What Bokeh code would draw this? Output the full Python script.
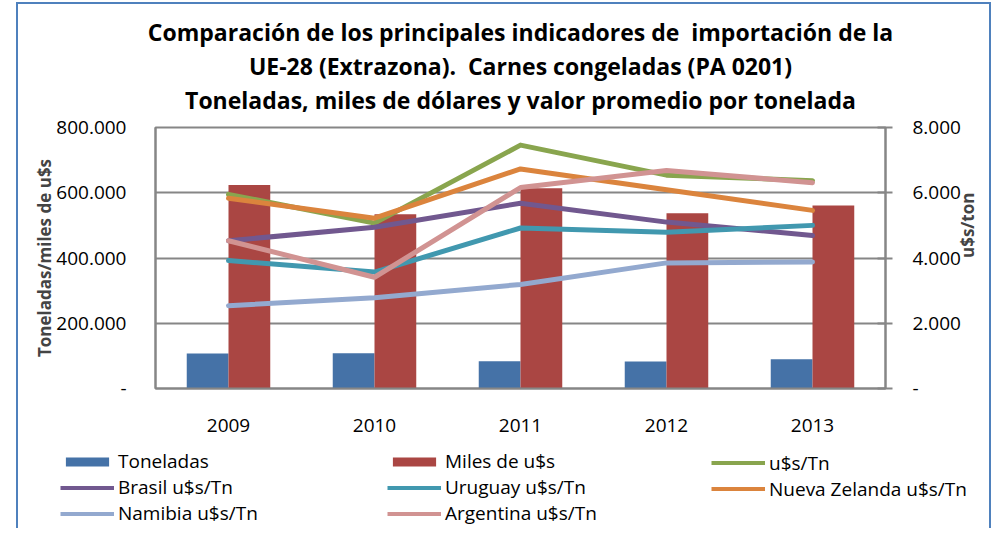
import math
from bokeh.plotting import figure
from bokeh.layouts import column
from bokeh.models import (FactorRange, Range1d, LinearAxis, SingleIntervalTicker,
                          CustomJSTickFormatter, Legend, LegendItem, ColumnDataSource, Title)
from bokeh.transform import dodge
from bokeh.embed import file_html
from bokeh.resources import INLINE

years = ["2009", "2010", "2011", "2012", "2013"]
toneladas = [107000, 108000, 83500, 83000, 89500]
miles_usd = [624000, 534000, 614000, 537000, 561000]
usd_tn = [5950, 5070, 7460, 6540, 6370]
brasil = [4530, 4940, 5680, 5100, 4690]
uruguay = [3920, 3570, 4920, 4790, 5000]
nueva_zelanda = [5830, 5220, 6730, 6090, 5460]
namibia = [2540, 2780, 3190, 3850, 3880]
argentina = [4530, 3410, 6160, 6680, 6310]

title_lines = ["Comparación de los principales indicadores de\u00a0 importación de la",
               "UE-28 (Extrazona).\u00a0 Carnes congeladas (PA 0201)",
               "Toneladas, miles de dólares y valor promedio por tonelada"]

legend_cols = [
    [("Toneladas", "bar", "#4572A7"), ("Brasil u$s/Tn", "line", "#71588F"),
     ("Namibia u$s/Tn", "line", "#93A9CF")],
    [("Miles de u$s", "bar", "#AA4643"), ("Uruguay u$s/Tn", "line", "#4198AF"),
     ("Argentina u$s/Tn", "line", "#D19392")],
    [("u$s/Tn", "line", "#89A54E"), ("Nueva Zelanda u$s/Tn", "line", "#DB843D")],
]

left_ticks_interval = 200000
right_ticks_interval = 2000

src = ColumnDataSource(dict(year=years, ton=toneladas, miles=miles_usd, usd=usd_tn,
                            bra=brasil, uru=uruguay, nz=nueva_zelanda,
                            nam=namibia, arg=argentina))

FONT = "Open Sans"
GRAY = "#868686"
BORDER = "2px solid #4F81BD"

W = 975
p = figure(x_range=FactorRange(*years, range_padding=0), y_range=Range1d(0, 800000),
           width=W, height=436, output_backend="svg", toolbar_location=None,
           min_border_left=137, min_border_right=105, min_border_top=123, min_border_bottom=52)
p.styles = {"border-left": BORDER, "border-right": BORDER, "border-top": BORDER,
            "margin-left": "16px", "margin-top": "2px"}
p.frame_align = False
p.extra_y_ranges = {"right": Range1d(0, 8000)}

p.title.visible = False
# small spacer between the plot frame and the title block
p.add_layout(Title(text="\u00a0", text_font_size="9px", standoff=0), "above")
for txt, off in zip(reversed(title_lines), [24, 6, 20]):
    t = Title(text=txt, align="center", text_font=FONT, text_font_style="bold",
              text_font_size="23px", text_color="black", standoff=0, offset=off)
    p.add_layout(t, "above")

fmt = CustomJSTickFormatter(code="""
if (tick == 0) { return '-'; }
return Math.round(tick).toString().replace(/\\B(?=(\\d{3})+(?!\\d))/g, '.');
""")

p.outline_line_color = GRAY
p.outline_line_width = 2
p.xgrid.grid_line_color = None
p.ygrid.grid_line_color = GRAY
p.ygrid.grid_line_width = 2

p.xaxis.axis_line_color = GRAY
p.xaxis.axis_line_width = 2
p.xaxis.major_tick_line_color = None
p.xaxis.minor_tick_line_color = None
p.xaxis.major_label_standoff = 24
p.xaxis.major_label_text_font = FONT
p.xaxis.major_label_text_font_size = "19px"
p.xaxis.major_label_text_color = "black"

p.yaxis.ticker = SingleIntervalTicker(interval=left_ticks_interval, num_minor_ticks=0)
p.yaxis.formatter = fmt
p.yaxis.axis_line_color = GRAY
p.yaxis.axis_line_width = 2
p.yaxis.major_tick_line_color = None
p.yaxis.minor_tick_line_color = None
p.yaxis.major_label_standoff = 23
p.yaxis.major_label_text_font = FONT
p.yaxis.major_label_text_font_size = "19px"
p.yaxis.major_label_text_color = "black"
p.yaxis.axis_label = "Toneladas/miles de u$s"
p.yaxis.axis_label_text_font = FONT
p.yaxis.axis_label_text_font_style = "bold"
p.yaxis.axis_label_text_font_size = "17px"
p.yaxis.axis_label_standoff = -3

ry = LinearAxis(y_range_name="right",
                ticker=SingleIntervalTicker(interval=right_ticks_interval, num_minor_ticks=0),
                formatter=fmt)
ry.axis_line_color = GRAY
ry.axis_line_width = 2
ry.major_tick_line_color = GRAY
ry.major_tick_line_width = 2
ry.major_tick_in = 8
ry.major_tick_out = 7
ry.minor_tick_line_color = None
ry.major_label_standoff = 20
ry.major_label_text_font = FONT
ry.major_label_text_font_size = "19px"
ry.major_label_text_color = "black"
ry.axis_label = "u$s/ton"
ry.axis_label_orientation = math.pi / 2
ry.axis_label_text_font = FONT
ry.axis_label_text_font_style = "bold"
ry.axis_label_text_font_size = "17px"
ry.axis_label_standoff = 4
p.add_layout(ry, "right")

bw = 0.286
p.vbar(x=dodge("year", -bw / 2, range=p.x_range), top="ton", width=bw, source=src,
       fill_color="#4572A7", line_color=None)
p.vbar(x=dodge("year", bw / 2, range=p.x_range), top="miles", width=bw, source=src,
       fill_color="#AA4643", line_color=None)

for col, color in [("usd", "#89A54E"), ("bra", "#71588F"), ("uru", "#4198AF"),
                   ("nz", "#DB843D"), ("nam", "#93A9CF"), ("arg", "#D19392")]:
    p.line(x="year", y=col, source=src, y_range_name="right", line_color=color,
           line_width=5, line_cap="round", line_join="round")

# legend panel below the chart (legend proxies sit outside the visible range)
H2 = 90
p2 = figure(width=W, height=H2, x_range=Range1d(0, 1), y_range=Range1d(0, 1),
            x_axis_location=None, y_axis_location=None,
            output_backend="svg", toolbar_location=None,
            min_border_left=0, min_border_right=0, min_border_top=0, min_border_bottom=0)
p2.styles = {"border-left": BORDER, "border-right": BORDER, "margin-left": "16px"}
p2.frame_align = False
p2.grid.visible = False
p2.outline_line_color = None
p2.title.visible = False

proxy = ColumnDataSource(dict(x=[5], y=[5]))
col_x = [42, 369, 693]
row_h = 24.5
top_y = 14.5
for cx, entries in zip(col_x, legend_cols):
    its = []
    for label, kind, color in entries:
        if kind == "bar":
            r = p2.vbar(x="x", top="y", width=0.1, source=proxy, fill_color=color, line_color=None)
        else:
            r = p2.line(x="x", y="y", source=proxy, line_color=color, line_width=4)
        its.append(LegendItem(label=label, renderers=[r]))
    lg_h = row_h * len(entries)
    lg = Legend(items=its, location=(cx, H2 - top_y - lg_h))
    lg.border_line_color = None
    lg.background_fill_alpha = 0
    lg.padding = 0
    lg.margin = 0
    lg.spacing = 0
    lg.glyph_width = 54
    lg.glyph_height = 11
    lg.label_standoff = 4
    lg.label_text_font = FONT
    lg.label_text_font_size = "19px"
    lg.label_text_color = "black"
    lg.label_height = 24
    p2.add_layout(lg)

layout = column(p, p2, spacing=0)
open("out.html", "w").write(file_html(layout, INLINE))
